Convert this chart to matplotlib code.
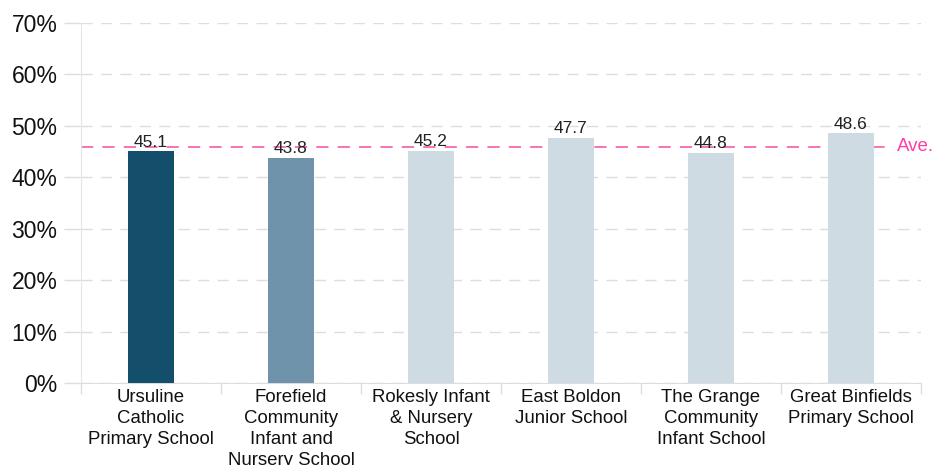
import numpy as np
import matplotlib
matplotlib.use("Agg")
import matplotlib.pyplot as plt

# data
schools = [
    "Ursuline\nCatholic\nPrimary School",
    "Forefield\nCommunity\nInfant and\nNursery School",
    "Rokesly Infant\n& Nursery\nSchool",
    "East Boldon\nJunior School",
    "The Grange\nCommunity\nInfant School",
    "Great Binfields\nPrimary School",
]
values = [45.1, 43.8, 45.2, 47.7, 44.8, 48.6]
average = 45.9
bar_colors = ["#134f6a", "#7093ac", "#cfdbe3", "#cfdbe3", "#cfdbe3", "#cfdbe3"]
yticks = [0, 10, 20, 30, 40, 50, 60, 70]

plt.rcParams["font.family"] = ["Liberation Sans", "DejaVu Sans"]

fig = plt.figure(figsize=(9.33, 4.65), dpi=100)
ax = fig.add_axes([81 / 933, 82 / 465, 840 / 933, 360 / 465])

x = np.arange(len(schools))
ax.bar(x, values, width=0.335, color=bar_colors, zorder=3)

for xi, v in zip(x, values):
    ax.text(xi, v + 0.3, f"{v}", ha="center", va="bottom", fontsize=12.5,
            color="#222222", zorder=4)

# average line
ax.axhline(average, xmax=0.96, color="#f0509f", lw=1.1, dashes=(8, 6), zorder=2)
ax.text(5.33, average, "Ave.", color="#ff3fa4", fontsize=13.5, va="center",
        ha="left", clip_on=False)

ax.set_xlim(-0.5, 5.5)
ax.set_ylim(0, 70)
ax.set_yticks(yticks)
ax.set_yticklabels([f"{t}%" for t in yticks], fontsize=16.5, color="#111111")
ax.yaxis.grid(True, color="#dddddd", lw=1, dashes=(8, 6))
ax.set_axisbelow(True)

# category ticks sit between the bars
ax.set_xticks(x)
ax.set_xticklabels(schools, fontsize=13.4, color="#111111", linespacing=1.32)
ax.set_xticks(np.arange(-0.5, 6, 1), minor=True)
ax.tick_params(axis="x", which="major", length=0, pad=4)
ax.tick_params(axis="x", which="minor", length=8, color="#dddddd", width=1)
ax.tick_params(axis="y", length=12, color="#dddddd", width=1, pad=5)

for side in ["top", "right"]:
    ax.spines[side].set_visible(False)
ax.spines["left"].set_color("#e6e6e6")
ax.spines["bottom"].set_color("#dddddd")

fig.savefig("out.png", dpi=100)
